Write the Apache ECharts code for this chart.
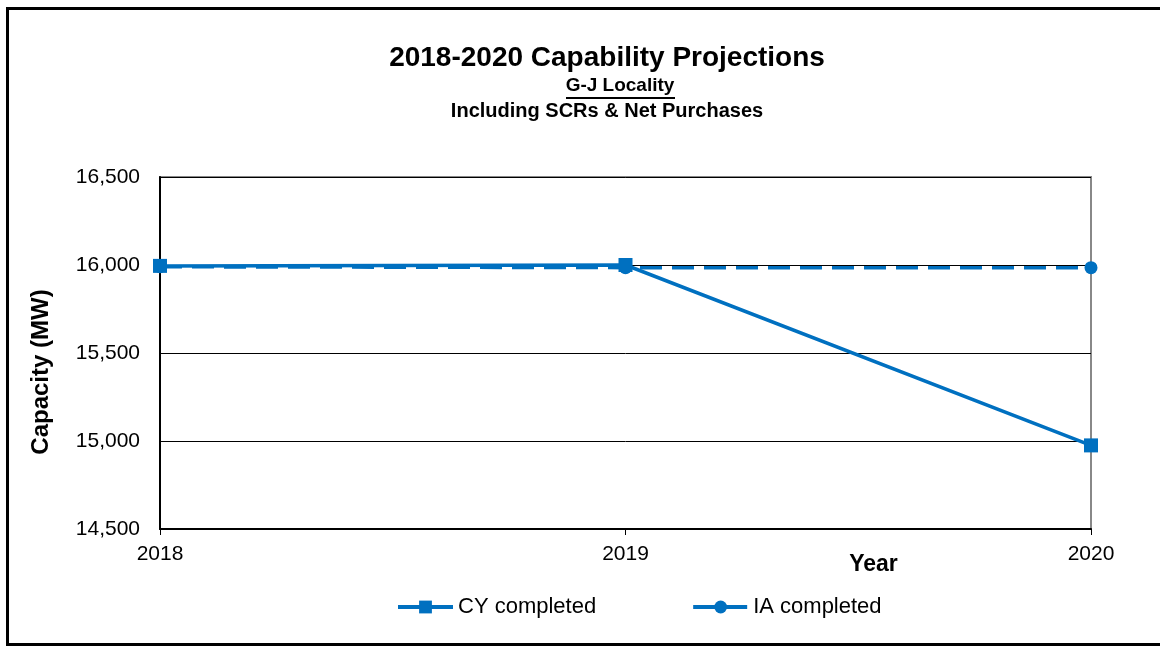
<!DOCTYPE html>
<html><head><meta charset="utf-8">
<script src="https://cdn.jsdelivr.net/npm/echarts@6/dist/echarts.min.js"></script>
<style>html,body{margin:0;padding:0;background:#fff}#c{width:1160px;height:647px}</style>
</head><body><div id="c"></div>
<script>
const years = ['2018', '2019', '2020'];
const cyCompleted = [15995, 16000, 14975];
const iaCompleted = [15990, 15985, 15985];
const yTicks = { min: 14500, max: 16500, interval: 500 };

const chart = echarts.init(document.getElementById('c'));
const font = '"Liberation Sans", Arial, sans-serif';
const blue = '#0070C0';
chart.setOption({
  animation: false,
  graphic: [
    { type: 'rect', shape: { x: 7.5, y: 8.5, width: 1165, height: 636 }, style: { fill: 'none', stroke: '#000', lineWidth: 3 }, z: 0 },
    { type: 'text', x: 607, y: 58, style: { text: '2018-2020 Capability Projections', font: 'bold 28px ' + font, fill: '#000', textAlign: 'center', textVerticalAlign: 'middle' } },
    { type: 'text', x: 620, y: 86, style: { text: 'G-J Locality', font: 'bold 19px ' + font, fill: '#000', textAlign: 'center', textVerticalAlign: 'middle' } },
    { type: 'line', shape: { x1: 566, y1: 98, x2: 675, y2: 98 }, style: { stroke: '#000', lineWidth: 2 } },
    { type: 'text', x: 607, y: 111, style: { text: 'Including SCRs & Net Purchases', font: 'bold 20px ' + font, fill: '#000', textAlign: 'center', textVerticalAlign: 'middle' } },
    { type: 'text', x: 41, y: 372, rotation: Math.PI / 2, style: { text: 'Capacity (MW)', font: 'bold 24px ' + font, fill: '#000', textAlign: 'center', textVerticalAlign: 'middle' } }
  ],
  grid: { left: 160, right: 69, top: 177, bottom: 118, show: true, borderColor: '#888', borderWidth: 2, backgroundColor: 'transparent' },
  legend: {
    bottom: 24, left: 391, itemWidth: 55, itemHeight: 16, itemGap: 95,
    textStyle: { fontFamily: font, fontSize: 22, color: '#000' },
    data: [
      { name: 'CY completed', lineStyle: { width: 4 } },
      { name: 'IA completed', lineStyle: { width: 4 } }
    ]
  },
  xAxis: {
    type: 'category', data: years, boundaryGap: false,
    name: 'Year', nameLocation: 'end', nameGap: 0,
    nameTextStyle: { fontFamily: font, fontSize: 23, fontWeight: 'bold', color: '#000', align: 'center', verticalAlign: 'top', padding: [24, 0, 0, -435] },
    axisLine: { lineStyle: { color: '#000', width: 2 } },
    axisTick: { show: true, length: 6, lineStyle: { color: '#000', width: 1 } },
    axisLabel: { fontFamily: font, fontSize: 21, color: '#000', margin: 15 },
    splitLine: { show: false }
  },
  yAxis: {
    type: 'value', min: yTicks.min, max: yTicks.max, interval: yTicks.interval,
    axisLine: { show: true, lineStyle: { color: '#000', width: 2 } },
    axisTick: { show: false },
    axisLabel: { fontFamily: font, fontSize: 21, color: '#000', margin: 20 },
    splitLine: { lineStyle: { color: '#000', width: 1 } }
  },
  series: [
    { name: 'CY completed', type: 'line', data: cyCompleted, symbol: 'rect', symbolSize: 14,
      itemStyle: { color: blue }, lineStyle: { color: blue, width: 3.5 }, z: 3 },
    { name: 'IA completed', type: 'line', data: iaCompleted, symbol: 'circle', symbolSize: 13,
      itemStyle: { color: blue }, lineStyle: { color: blue, width: 3.5, type: [22, 10] }, z: 2 }
  ]
});
</script></body></html>
